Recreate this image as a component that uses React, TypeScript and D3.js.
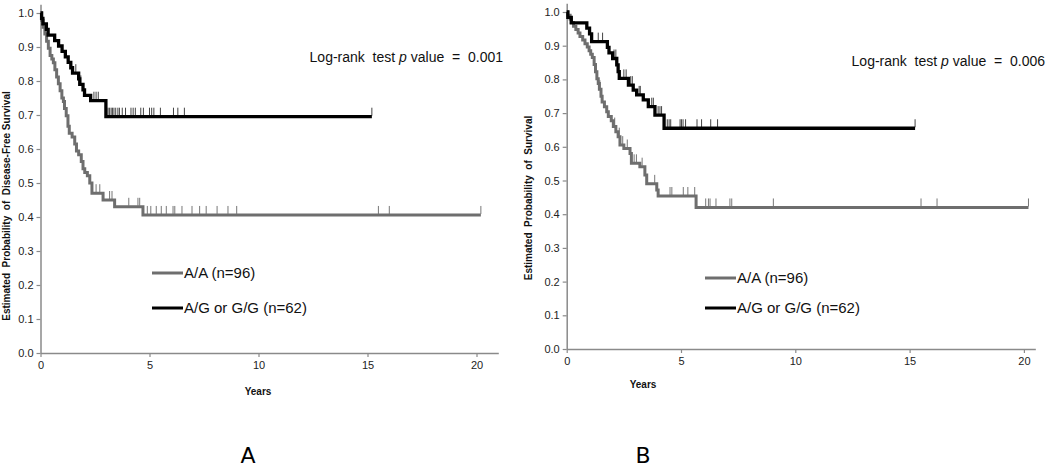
import React from "react";
import * as d3 from "d3";

// ---- Panel A : disease-free survival ----
const aaTimesA = [0.05, 0.12, 0.2, 0.28, 0.36, 0.44, 0.52, 0.59, 0.66, 0.74, 0.82, 0.9, 0.98, 1.05, 1.1, 1.18, 1.26, 1.32, 1.45, 1.57, 1.65, 1.75, 1.87, 1.95, 2.03, 2.15, 2.26, 2.36, 2.87, 3.4, 4.7];
const aaSurvA = [0.979, 0.958, 0.938, 0.917, 0.896, 0.875, 0.865, 0.854, 0.833, 0.812, 0.792, 0.771, 0.75, 0.74, 0.719, 0.698, 0.667, 0.646, 0.635, 0.615, 0.594, 0.583, 0.563, 0.542, 0.531, 0.521, 0.5, 0.47, 0.45, 0.43, 0.406];
const aaCensorA = [2.55, 2.72, 3.17, 3.28, 4.05, 4.47, 4.55, 4.9, 5.06, 5.31, 5.54, 5.77, 6.08, 6.16, 6.49, 6.95, 7.3, 7.6, 8.1, 8.6, 9.0, 15.5, 16.0, 20.2];

const agTimesA = [0.05, 0.11, 0.27, 0.35, 0.65, 0.83, 0.99, 1.14, 1.27, 1.39, 1.47, 1.75, 1.8, 1.95, 2.02, 2.3, 3.0];
const agSurvA = [0.984, 0.968, 0.952, 0.935, 0.919, 0.903, 0.887, 0.871, 0.855, 0.839, 0.823, 0.806, 0.79, 0.774, 0.758, 0.742, 0.695];
const agCensorA = [1.62, 1.85, 2.45, 2.55, 2.65, 3.1, 3.17, 3.24, 3.3, 3.37, 3.45, 3.55, 3.62, 3.75, 3.9, 4.15, 4.25, 4.35, 4.6, 4.72, 5.0, 5.1, 5.2, 5.5, 6.1, 6.3, 6.6, 15.2];

// ---- Panel B : overall survival ----
const aaTimesB = [0.05, 0.15, 0.2, 0.3, 0.4, 0.5, 0.58, 0.7, 0.8, 0.9, 0.98, 1.05, 1.12, 1.2, 1.26, 1.32, 1.38, 1.43, 1.5, 1.55, 1.65, 1.75, 1.82, 1.95, 2.04, 2.15, 2.25, 2.33, 2.5, 2.77, 2.83, 3.2, 3.42, 3.5, 3.94, 4.0, 5.66];
const aaSurvB = [0.99, 0.979, 0.969, 0.958, 0.948, 0.938, 0.927, 0.917, 0.906, 0.896, 0.885, 0.875, 0.865, 0.844, 0.823, 0.802, 0.788, 0.771, 0.75, 0.733, 0.719, 0.704, 0.69, 0.677, 0.66, 0.645, 0.63, 0.605, 0.595, 0.58, 0.551, 0.541, 0.516, 0.49, 0.472, 0.454, 0.42];
const aaCensorB = [1.45, 2.1, 2.3, 2.45, 2.65, 2.95, 3.05, 3.3, 3.85, 4.52, 4.6, 5.1, 5.3, 5.6, 6.08, 6.2, 6.27, 6.53, 7.14, 7.22, 9.04, 15.5, 16.2, 20.2];

const agTimesB = [0.05, 0.2, 0.88, 1.0, 1.09, 1.78, 1.85, 2.01, 2.19, 2.25, 2.3, 2.7, 2.91, 3.06, 3.35, 3.57, 3.86, 4.26];
const agSurvB = [0.984, 0.968, 0.952, 0.935, 0.912, 0.895, 0.879, 0.862, 0.843, 0.823, 0.803, 0.783, 0.768, 0.754, 0.739, 0.719, 0.694, 0.655];
const agCensorB = [1.38, 1.57, 2.07, 2.15, 2.5, 2.6, 2.8, 2.87, 3.17, 3.22, 3.72, 3.79, 4.0, 4.08, 4.15, 4.4, 4.48, 4.55, 4.96, 5.02, 5.09, 5.2, 5.7, 5.9, 6.3, 6.6, 15.24];

const xTickValues = [0, 5, 10, 15, 20];
const yTickValues = [0, 0.1, 0.2, 0.3, 0.4, 0.5, 0.6, 0.7, 0.8, 0.9, 1.0];
const legendLabels = ["A/A (n=96)", "A/G or G/G (n=62)"];

const GRAY = "#6e6e6e";
const BLACK = "#000";
const AXIS = "#8a8a8a";
const FONT = "'Liberation Sans', Arial, sans-serif";

const panels = [
  {
    letter: "A", pValue: "0.001", yLabel: "Estimated  Probability  of  Disease-Free Survival",
    left: 40.5, unitX: 21.8, xMax: 21, bottom: 353, unitY: 340,
    yLabelX: 7, yLabelY: 206, yearsX: 258, yearsY: 395, letterX: 248,
    pRight: 503, pY: 62, legX: 152, legY: [273, 308],
    series: [
      { times: aaTimesA, surv: aaSurvA, censor: aaCensorA, color: GRAY, censorColor: "#777", width: 3 },
      { times: agTimesA, surv: agSurvA, censor: agCensorA, color: BLACK, censorColor: "#444", width: 3.3 },
    ],
  },
  {
    letter: "B", pValue: "0.006", yLabel: "Estimated  Probability  of  Survival",
    left: 566.7, unitX: 22.86, xMax: 20.5, bottom: 349, unitY: 337,
    yLabelX: 529, yLabelY: 198, yearsX: 643, yearsY: 388, letterX: 643,
    pRight: 1045, pY: 66, legX: 705, legY: [278, 308],
    series: [
      { times: aaTimesB, surv: aaSurvB, censor: aaCensorB, color: GRAY, censorColor: "#777", width: 3 },
      { times: agTimesB, surv: agSurvB, censor: agCensorB, color: BLACK, censorColor: "#444", width: 3.3 },
    ],
  },
];

const App = () => {
  const ref = React.useRef<SVGSVGElement>(null);

  React.useEffect(() => {
    const svg = d3.select(ref.current);
    svg.selectAll("*").remove();

    panels.forEach((p) => {
      const x = d3.scaleLinear().domain([0, p.xMax]).range([p.left, p.left + p.xMax * p.unitX]);
      const y = d3.scaleLinear().domain([0, 1.026]).range([p.bottom, p.bottom - 1.026 * p.unitY]);

      // axes
      const gx = svg.append("g")
        .attr("transform", `translate(0,${p.bottom})`)
        .call(d3.axisBottom(x).tickValues(xTickValues).tickSize(4).tickSizeOuter(0).tickPadding(4).tickFormat(d3.format("d")));
      const gy = svg.append("g")
        .attr("transform", `translate(${p.left},0)`)
        .call(d3.axisLeft(y).tickValues(yTickValues).tickSize(4).tickSizeOuter(0).tickPadding(3).tickFormat(d3.format(".1f")));
      [gx, gy].forEach((g) => {
        g.attr("font-family", FONT).attr("font-size", 11);
        g.select(".domain").attr("stroke", AXIS).attr("stroke-width", 1.5);
        g.selectAll(".tick line").attr("stroke", AXIS).attr("stroke-width", 1.2);
        g.selectAll(".tick text").attr("fill", "#222");
      });

      // curves
      const line = d3.line<{ t: number; s: number }>()
        .x((d) => x(d.t))
        .y((d) => y(d.s))
        .curve(d3.curveStepAfter);

      p.series.forEach((ser) => {
        const end = ser.censor[ser.censor.length - 1];
        const pts = [{ t: 0, s: 1 }, ...ser.times.map((t, i) => ({ t, s: ser.surv[i] })), { t: end, s: ser.surv[ser.surv.length - 1] }];
        const survAt = (t: number) => {
          let s = 1;
          ser.times.forEach((tt, i) => { if (tt <= t) s = ser.surv[i]; });
          return s;
        };
        svg.append("g")
          .selectAll("line")
          .data(ser.censor)
          .enter()
          .append("line")
          .attr("x1", (d) => x(d)).attr("x2", (d) => x(d))
          .attr("y1", (d) => y(survAt(d)) - 1)
          .attr("y2", (d) => y(survAt(d)) - 9)
          .attr("stroke", ser.censorColor)
          .attr("stroke-width", 1);
        svg.append("path")
          .datum(pts)
          .attr("d", line)
          .attr("fill", "none")
          .attr("stroke", ser.color)
          .attr("stroke-width", ser.width);
      });

      // legend
      p.series.forEach((ser, i) => {
        svg.append("line")
          .attr("x1", p.legX).attr("x2", p.legX + 31)
          .attr("y1", p.legY[i]).attr("y2", p.legY[i])
          .attr("stroke", ser.color).attr("stroke-width", 3);
        svg.append("text")
          .attr("x", p.legX + 32).attr("y", p.legY[i] + 5)
          .attr("font-family", FONT).attr("font-size", 15).attr("fill", "#111")
          .text(legendLabels[i]);
      });

      // p-value
      const pt = svg.append("text")
        .attr("x", p.pRight).attr("y", p.pY)
        .attr("text-anchor", "end")
        .attr("font-family", FONT).attr("font-size", 14).attr("fill", "#111")
        .attr("xml:space", "preserve");
      pt.append("tspan").text("Log-rank  test ");
      pt.append("tspan").attr("font-style", "italic").text("p");
      pt.append("tspan").text(" value  =  " + p.pValue);

      // axis titles
      svg.append("text")
        .attr("transform", `translate(${p.yLabelX},${p.yLabelY}) rotate(-90)`)
        .attr("text-anchor", "middle").attr("dominant-baseline", "middle")
        .attr("font-family", FONT).attr("font-size", 10).attr("font-weight", "bold").attr("fill", "#111")
        .attr("xml:space", "preserve")
        .text(p.yLabel);
      svg.append("text")
        .attr("x", p.yearsX).attr("y", p.yearsY)
        .attr("text-anchor", "middle")
        .attr("font-family", FONT).attr("font-size", 10).attr("font-weight", "bold").attr("fill", "#111")
        .text("Years");

      // panel letter
      svg.append("text")
        .attr("x", p.letterX).attr("y", 463)
        .attr("text-anchor", "middle")
        .attr("font-family", "'DejaVu Sans', sans-serif").attr("font-size", 22).attr("fill", "#000")
        .text(p.letter);
    });
  }, []);

  return (
    <svg ref={ref} width={1050} height={468} style={{ position: "absolute", left: 0, top: 0, background: "#fff" }} />
  );
};

export default App;
